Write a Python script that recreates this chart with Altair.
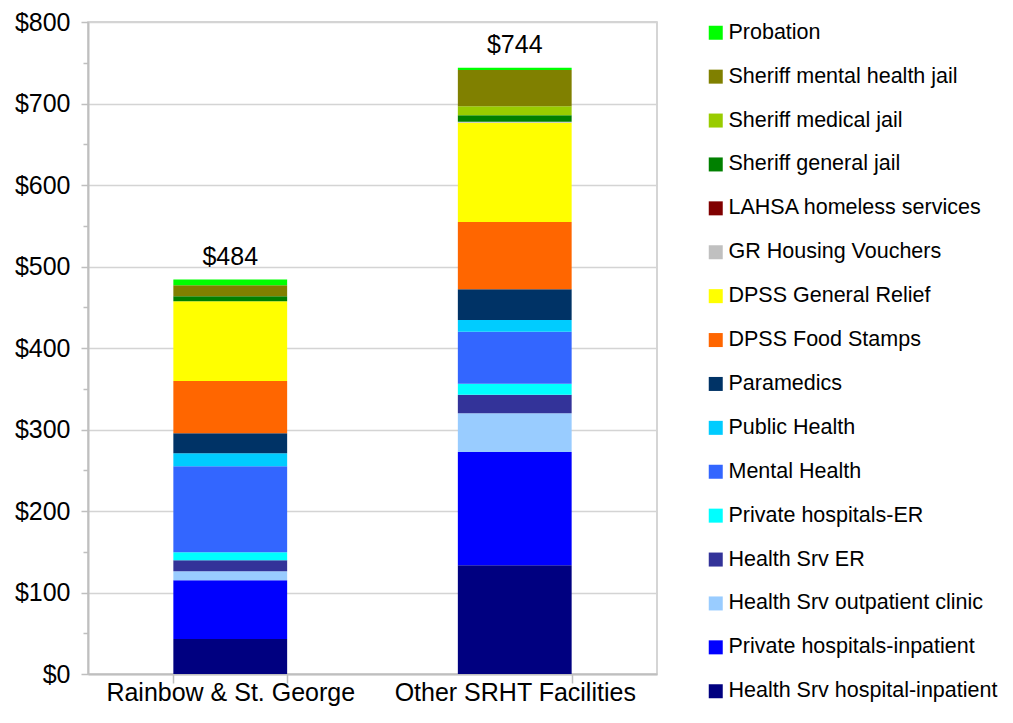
import altair as alt
import pandas as pd

categories = ["Rainbow & St. George", "Other SRHT Facilities"]

# stacked bottom -> top
services = [
    "Health Srv hospital-inpatient",
    "Private hospitals-inpatient",
    "Health Srv outpatient clinic",
    "Health Srv ER",
    "Private hospitals-ER",
    "Mental Health",
    "Public Health",
    "Paramedics",
    "DPSS Food Stamps",
    "DPSS General Relief",
    "GR Housing Vouchers",
    "LAHSA homeless services",
    "Sheriff general jail",
    "Sheriff medical jail",
    "Sheriff mental health jail",
    "Probation",
]
colors = [
    "#000080", "#0000FF", "#99CCFF", "#333399", "#00FFFF", "#3366FF",
    "#00CCFF", "#003366", "#FF6600", "#FFFF00", "#C0C0C0", "#800000",
    "#008000", "#99CC00", "#808000", "#00FF00",
]
rainbow_values = [43, 72, 11, 13.5, 10, 105.5, 16, 24.5, 64, 98, 0, 0, 6, 0, 13.5, 7]
other_values = [133.5, 139, 47.5, 22.5, 13.5, 64, 14.5, 37.5, 82.5, 122, 1, 0, 8, 11, 44.5, 3]
totals = [484, 744]

FONT = "Liberation Sans"

rows = []
for cat, vals in zip(categories, [rainbow_values, other_values]):
    for i, (s, v) in enumerate(zip(services, vals)):
        rows.append({"category": cat, "service": s, "value": v, "idx": i})
df = pd.DataFrame(rows)

tdf = pd.DataFrame({
    "category": categories,
    "total": totals,
    "label": ["$" + str(t) for t in totals],
})

legend_order = services[::-1]
legend_colors = colors[::-1]

x_enc = alt.X(
    "category:N",
    sort=categories,
    scale=alt.Scale(paddingInner=0.6, paddingOuter=0.3),
    axis=alt.Axis(
        title=None, labelAngle=0, labelFontSize=25, labelColor="black",
        labelFont=FONT, labelLimit=400, tickBand="extent", tickSize=9,
        tickColor="#bfbfbf", tickWidth=1.5, domainColor="#bfbfbf",
        domainWidth=2, labelPadding=17, labelBaseline="alphabetic", grid=False,
    ),
)

y_axis = alt.Axis(
    title=None,
    values=list(range(0, 801, 25)),
    labelExpr="datum.value % 100 === 0 ? '$' + datum.value : ''",
    labelFontSize=25, labelColor="black", labelFont=FONT, labelPadding=11,
    labelOverlap=False,
    tickSize={"condition": {"test": "datum.value % 100 === 0", "value": 7}, "value": 5},
    tickColor="#bfbfbf", tickWidth=1.5,
    domainColor="#bfbfbf", domainWidth=2,
    gridColor="#d4d4d4", gridWidth=1.5,
    gridOpacity={"condition": {"test": "datum.value % 100 === 0", "value": 1}, "value": 0},
)

bars = alt.Chart(df).mark_bar().encode(
    x=x_enc,
    y=alt.Y("value:Q", stack="zero",
            scale=alt.Scale(domain=[0, 800], nice=False), axis=y_axis),
    color=alt.Color(
        "service:N",
        scale=alt.Scale(domain=legend_order, range=legend_colors),
        legend=alt.Legend(
            title=None, orient="none", legendX=617, legendY=0,
            symbolType="square", symbolSize=196, symbolStrokeWidth=0,
            labelFontSize=21.5, labelFont=FONT, labelColor="black",
            labelOffset=2, rowPadding=20.9, labelLimit=400,
        ),
    ),
    order=alt.Order("idx:Q"),
)

text = alt.Chart(tdf).mark_text(
    fontSize=25, dy=-15, baseline="alphabetic", font=FONT, color="black"
).encode(
    x=alt.X("category:N", sort=categories),
    y=alt.Y("total:Q"),
    text="label:N",
)

chart = alt.layer(bars, text).properties(
    width=569,
    height=652,
    padding={"left": 80, "top": 14, "right": 348, "bottom": 34},
    autosize=alt.AutoSizeParams(type="none"),
).configure_view(
    stroke="#c8c8c8", strokeWidth=1.5
)

chart.save("out.html", embed_options={"renderer": "svg", "actions": False})
